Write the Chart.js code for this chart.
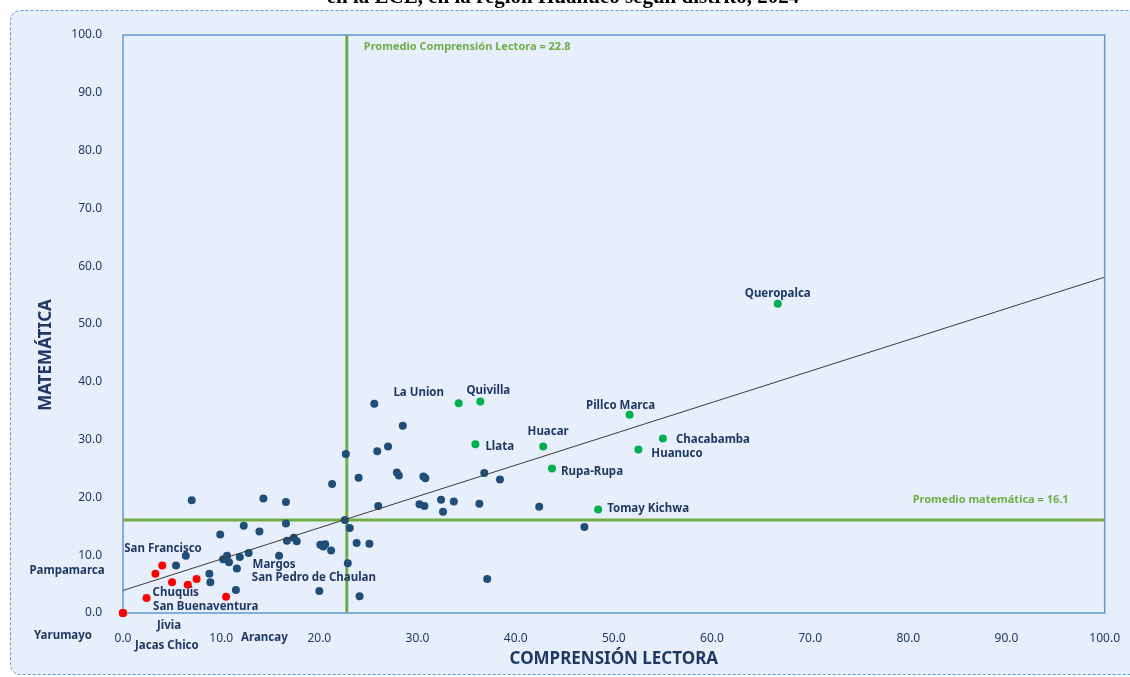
<!DOCTYPE html>
<html>
<head>
<meta charset="utf-8">
<script src="https://cdn.jsdelivr.net/npm/chart.js@4.4.1/dist/chart.umd.min.js"></script>
<style>
  html, body { margin: 0; padding: 0; background: #fff; }
  #wrap { width: 1130px; height: 677px; }
</style>
</head>
<body>
<div id="wrap"><canvas id="grafico" width="1130" height="677"></canvas></div>
<script>
var ticksEjes = [0, 10, 20, 30, 40, 50, 60, 70, 80, 90, 100];
var promedioLectura = 22.8;
var promedioMatematica = 16.1;
var tendenciaIntercepto = 3.9;
var tendenciaPendiente = 0.542;

// distritos sin etiqueta
var distritosX = [25.6, 28.5, 22.7, 25.9, 27.0, 24.0, 27.9, 28.1, 30.6, 30.8, 21.3, 7.0, 14.3, 16.6, 26.0, 30.2, 30.7, 22.6, 23.1, 12.3,
                  9.9, 13.9, 16.6, 16.7, 17.4, 17.7, 20.1, 20.6, 20.4, 21.2, 23.8, 25.1, 6.4, 5.4, 10.2, 10.6, 10.8, 11.9, 12.8, 15.9,
                  11.6, 8.8, 8.9, 11.5, 22.9, 20.0, 24.1, 36.8, 38.4, 32.4, 33.7, 32.6, 36.3, 42.4, 47.0, 37.1];
var distritosY = [36.2, 32.4, 27.5, 28.0, 28.8, 23.4, 24.3, 23.8, 23.6, 23.3, 22.3, 19.5, 19.8, 19.2, 18.5, 18.8, 18.5, 16.1, 14.7, 15.1,
                  13.6, 14.1, 15.5, 12.5, 13.0, 12.4, 11.8, 11.9, 11.5, 10.8, 12.1, 12.0, 9.9, 8.2, 9.3, 9.9, 8.8, 9.7, 10.4, 9.9,
                  7.7, 6.8, 5.3, 4.0, 8.6, 3.8, 2.9, 24.2, 23.1, 19.6, 19.3, 17.5, 18.9, 18.4, 14.9, 5.9];

// mejores resultados
var altosNombres = ['Queropalca', 'La Union', 'Quivilla', 'Pillco Marca', 'Huacar', 'Llata', 'Rupa-Rupa', 'Chacabamba', 'Huanuco', 'Tomay Kichwa'];
var altosX = [66.7, 34.2, 36.4, 51.6, 42.8, 35.9, 43.7, 55.0, 52.5, 48.4];
var altosY = [53.5, 36.3, 36.6, 34.3, 28.8, 29.2, 25.0, 30.2, 28.3, 17.9];

// resultados mas bajos
var bajosNombres = ['San Francisco', 'Pampamarca', 'Arancay', 'San Pedro de Chaulan', 'Margos', 'Chuquis', 'San Buenaventura', 'Yarumayo', 'Jivia', 'Jacas Chico'];
var bajosX = [4.0, 3.3, 5.0, 6.6, 7.5, 2.4, 10.5, 0.0, 0.0, 0.0];
var bajosY = [8.2, 6.8, 5.3, 4.9, 5.9, 2.6, 2.8, 0.0, 0.0, 0.0];

// desplazamiento de cada etiqueta en pixeles respecto a su punto
var posEtiquetas = {
  'Queropalca': [0, -10, 'center'],
  'La Union': [-40, -10, 'center'],
  'Quivilla': [8, -11, 'center'],
  'Pillco Marca': [-9, -9, 'center'],
  'Huacar': [5, -15, 'center'],
  'Llata': [10, 2, 'left'],
  'Rupa-Rupa': [9, 3, 'left'],
  'Chacabamba': [13, 1, 'left'],
  'Huanuco': [13, 4, 'left'],
  'Tomay Kichwa': [9, -1, 'left'],
  'San Francisco': [-38, -17, 'left'],
  'Pampamarca': [-126, -3, 'left'],
  'Arancay': [69, 55, 'left'],
  'San Pedro de Chaulan': [64, -7, 'left'],
  'Margos': [56, -14, 'left'],
  'Chuquis': [6, -5, 'left'],
  'San Buenaventura': [-73, 10, 'left'],
  'Yarumayo': [-89, 23, 'left'],
  'Jivia': [34, 13, 'left'],
  'Jacas Chico': [12, 33, 'left']
};

function puntos(xs, ys) {
  return xs.map(function(x, i){ return {x: x, y: ys[i]}; });
}

var azul = '#1F3864';
var verde = '#70AD47';
var fuente = "'Noto Sans', sans-serif";

var fondo = {
  id: 'fondo',
  beforeDraw: function(chart) {
    var c = chart.ctx;
    c.save();
    c.fillStyle = '#fff';
    c.fillRect(0, 0, chart.width, chart.height);
    c.beginPath();
    c.roundRect(10.5, 10.5, 1140, 664, 10);
    c.fillStyle = '#E8EFFC';
    c.fill();
    c.setLineDash([3, 2]);
    c.strokeStyle = '#5B9BD5';
    c.lineWidth = 1;
    c.stroke();
    c.setLineDash([]);
    // titulo cortado arriba
    c.fillStyle = '#000';
    c.font = "bold 21px 'Liberation Serif', serif";
    c.textAlign = 'center';
    c.textBaseline = 'alphabetic';
    c.fillText('en la ECE, en la región Huánuco según distrito, 2024', 563, 3);
    c.restore();
  },
  beforeDatasetsDraw: function(chart) {
    var c = chart.ctx, a = chart.chartArea;
    c.save();
    c.strokeStyle = '#5B9BD5';
    c.lineWidth = 1.5;
    c.strokeRect(a.left, a.top, a.right - a.left, a.bottom - a.top);
    c.restore();
  },
  afterDraw: function(chart) {
    var c = chart.ctx, a = chart.chartArea;
    var sx = chart.scales.x, sy = chart.scales.y;
    c.save();

    // etiquetas de promedio
    c.fillStyle = verde;
    c.font = 'bold 11px ' + fuente;
    c.textBaseline = 'middle';
    c.textAlign = 'left';
    c.fillText('Promedio Comprensión Lectora = ' + promedioLectura.toFixed(1), sx.getPixelForValue(promedioLectura) + 17, a.top + 12);
    c.textAlign = 'right';
    c.fillText('Promedio matemática = ' + promedioMatematica.toFixed(1), a.right - 36, sy.getPixelForValue(promedioMatematica) - 20);

    // nombres de distritos
    c.fillStyle = azul;
    c.font = 'bold 11.5px ' + fuente;
    [[2, altosNombres], [3, bajosNombres]].forEach(function(par) {
      var meta = chart.getDatasetMeta(par[0]);
      par[1].forEach(function(nombre, i) {
        var p = meta.data[i];
        var o = posEtiquetas[nombre];
        c.textAlign = o[2];
        c.fillText(nombre, p.x + o[0], p.y + o[1]);
      });
    });

    // titulos de ejes
    c.font = 'bold 17px ' + fuente;
    c.textAlign = 'center';
    c.fillText('COMPRENSIÓN LECTORA', (a.left + a.right) / 2, 659);
    c.translate(46, 355);
    c.rotate(-Math.PI / 2);
    c.fillText('MATEMÁTICA', 0, 0);
    c.restore();
  }
};

var cxt = new Chart(document.getElementById('grafico'), {
  type: 'scatter',
  data: {
    datasets: [
      {
        type: 'line',
        label: 'tendencia',
        data: [
          {x: 0, y: tendenciaIntercepto},
          {x: 100, y: tendenciaIntercepto + tendenciaPendiente * 100}
        ],
        borderColor: '#3a3a3a',
        borderWidth: 1,
        pointRadius: 0,
        fill: false,
        order: 0
      },
      {
        label: 'distritos',
        data: puntos(distritosX, distritosY),
        backgroundColor: '#1F4E79',
        borderWidth: 0,
        pointRadius: 4,
        clip: false,
        order: 2
      },
      {
        label: 'altos',
        data: puntos(altosX, altosY),
        backgroundColor: '#00B050',
        borderWidth: 0,
        pointRadius: 4,
        clip: false,
        order: 1
      },
      {
        label: 'bajos',
        data: puntos(bajosX, bajosY),
        backgroundColor: '#FF0000',
        borderWidth: 0,
        pointRadius: 4,
        clip: false,
        order: 1
      },
      {
        type: 'line',
        label: 'promedio lectura',
        data: [{x: promedioLectura, y: 0}, {x: promedioLectura, y: 100}],
        borderColor: verde,
        borderWidth: 3,
        pointRadius: 0,
        order: 5
      },
      {
        type: 'line',
        label: 'promedio matematica',
        data: [{x: 0, y: promedioMatematica}, {x: 100, y: promedioMatematica}],
        borderColor: verde,
        borderWidth: 3,
        pointRadius: 0,
        order: 5
      }
    ]
  },
  options: {
    responsive: false,
    animation: false,
    devicePixelRatio: 1,
    layout: { padding: { top: 35, right: 25, left: 0, bottom: 0 } },
    plugins: {
      legend: { display: false },
      tooltip: { enabled: false }
    },
    scales: {
      x: {
        type: 'linear',
        min: 0,
        max: 100,
        afterBuildTicks: function(s) { s.ticks = ticksEjes.map(function(v){ return {value: v}; }); },
        afterFit: function(s) { s.height = 64; },
        grid: { display: false },
        border: { display: false },
        ticks: {
          padding: 10,
          color: azul,
          font: { family: fuente, size: 12 },
          callback: function(v) { return Number(v).toFixed(1); }
        }
      },
      y: {
        type: 'linear',
        min: 0,
        max: 100,
        afterBuildTicks: function(s) { s.ticks = ticksEjes.map(function(v){ return {value: v}; }); },
        afterFit: function(s) { s.width = 123; },
        grid: { display: false },
        border: { display: false },
        ticks: {
          padding: 13,
          color: azul,
          font: { family: fuente, size: 12 },
          callback: function(v) { return Number(v).toFixed(1); }
        }
      }
    }
  },
  plugins: [fondo]
});
</script>
</body>
</html>
